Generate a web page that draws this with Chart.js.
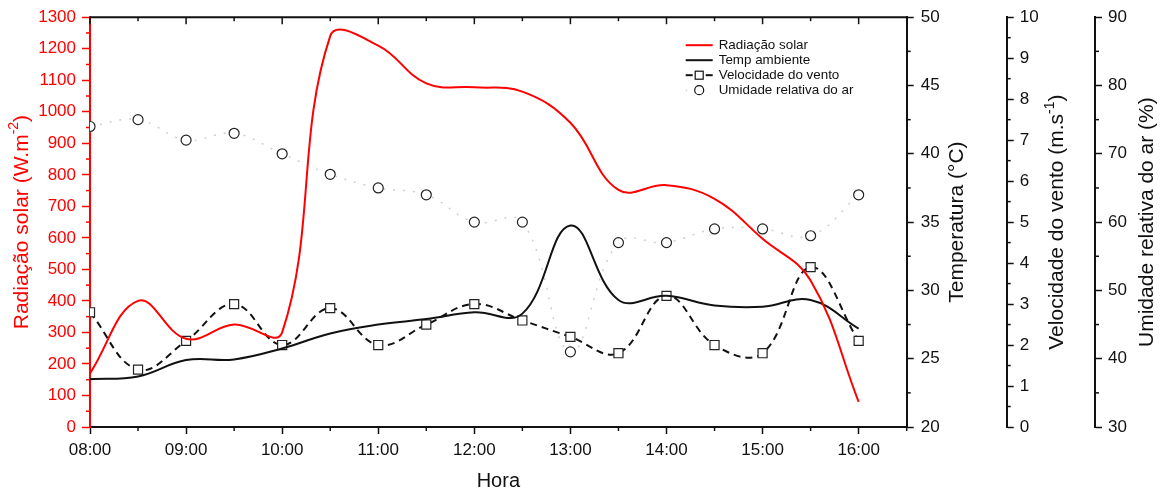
<!DOCTYPE html>
<html>
<head>
<meta charset="utf-8">
<script src="https://cdn.jsdelivr.net/npm/chart.js@4.4.0/dist/chart.umd.min.js"></script>
<style>
  html, body { margin: 0; padding: 0; background: #fff; }
</style>
</head>
<body>
<canvas id="myChart" width="1161" height="494"></canvas>
<script>
// hourly readings, every half hour from 08:00 to 16:00
var horas = [8, 8.5, 9, 9.5, 10, 10.5, 11, 11.5, 12, 12.5, 13, 13.5, 14, 14.5, 15, 15.5, 16];
var horaLabels = ['08:00', '09:00', '10:00', '11:00', '12:00', '13:00', '14:00', '15:00', '16:00'];

var radiacao = [170, 400, 280, 325, 300, 1240, 1210, 1090, 1078, 1064, 965, 752, 767, 724, 597, 465, 80];
var temperatura = [23.5, 23.7, 24.9, 24.95, 25.75, 26.85, 27.5, 27.9, 28.4, 28.3, 34.75, 29.3, 29.6, 28.9, 28.8, 29.3, 27.2];
var vento = [2.8, 1.4, 2.1, 3.0, 2.0, 2.9, 2.0, 2.5, 3.0, 2.6, 2.2, 1.8, 3.2, 2.0, 1.8, 3.9, 2.1];
var umidade = [74, 75, 72, 73, 70, 67, 65, 64, 60, 60, 41, 57, 57, 59, 59, 58, 64];

var legendNames = ['Radiação solar', 'Temp ambiente', 'Velocidade do vento', 'Umidade relativa do ar'];

var RED = '#ff0000';
var INK = '#111111';
var FONT = '"Liberation Sans", Arial, sans-serif';

// minor tick spacing per y axis (half of the labelled step)
var minorSteps = { y: 50, yT: 2.5, yV: 0.5, yU: 5 };

function toPoints(values) {
    var pts = [];
    values.forEach(function (v, i) {
        pts.push({ x: horas[i], y: v });
    });
    return pts;
}

function line(ctx, x1, y1, x2, y2) {
    ctx.beginPath();
    ctx.moveTo(x1, y1);
    ctx.lineTo(x2, y2);
    ctx.stroke();
}

// rotated axis title, with an optional superscript part
function drawVTitle(ctx, cx, cy, main, sup, tail, color) {
    var big = '21px ' + FONT;
    var small = '14px ' + FONT;
    ctx.save();
    ctx.translate(cx, cy);
    ctx.rotate(-Math.PI / 2);
    ctx.fillStyle = color;
    ctx.textBaseline = 'middle';
    ctx.textAlign = 'left';
    ctx.font = big;
    var w1 = ctx.measureText(main).width;
    var w3 = ctx.measureText(tail).width;
    ctx.font = small;
    var w2 = sup ? ctx.measureText(sup).width : 0;
    var x0 = -(w1 + w2 + w3) / 2;
    ctx.font = big;
    ctx.fillText(main, x0, 0);
    if (sup) {
        ctx.font = small;
        ctx.fillText(sup, x0 + w1, -8);
    }
    ctx.font = big;
    ctx.fillText(tail, x0 + w1 + w2, 0);
    ctx.restore();
}

function drawLegend(chart) {
    var ctx = chart.ctx;
    var area = chart.chartArea;
    var lx = area.right - 221;
    var ly = area.top + 28;
    ctx.save();
    ctx.font = '13.4px ' + FONT;
    ctx.textBaseline = 'middle';
    ctx.textAlign = 'left';
    chart.data.datasets.forEach(function (ds, i) {
        var y = ly + i * 15;
        ctx.strokeStyle = ds.borderColor;
        ctx.lineWidth = ds.borderWidth;
        ctx.setLineDash([]);
        if (i < 2) {
            line(ctx, lx, y, lx + 27, y);
        } else if (i === 2) {
            line(ctx, lx, y, lx + 7, y);
            line(ctx, lx + 20, y, lx + 27, y);
            ctx.lineWidth = 1.2;
            ctx.strokeStyle = INK;
            ctx.fillStyle = '#fff';
            ctx.fillRect(lx + 9.5, y - 4, 8, 8);
            ctx.strokeRect(lx + 9.5, y - 4, 8, 8);
        } else {
            ctx.fillStyle = ds.borderColor;
            ctx.fillRect(lx, y - 0.5, 1.5, 1.5);
            ctx.lineWidth = 1.2;
            ctx.strokeStyle = INK;
            ctx.beginPath();
            ctx.arc(lx + 13.5, y, 4.5, 0, Math.PI * 2);
            ctx.stroke();
        }
        ctx.fillStyle = INK;
        ctx.fillText(legendNames[i], lx + 33, y);
    });
    ctx.restore();
}

var extrasPlugin = {
    id: 'extras',
    afterDraw: function (chart) {
        var ctx = chart.ctx;
        var area = chart.chartArea;
        var xs = chart.scales.x;
        ctx.save();

        // top frame with inward ticks, half-hour minor ticks on the bottom
        ctx.strokeStyle = INK;
        ctx.lineWidth = 2;
        line(ctx, area.left, area.top, area.right, area.top);
        ctx.lineWidth = 1.5;
        for (var h = 8; h <= 16.5; h += 0.5) {
            var px = xs.getPixelForValue(h);
            var whole = h % 1 === 0;
            line(ctx, px, area.top, px, area.top + (whole ? 7 : 4));
            if (!whole) line(ctx, px, area.bottom, px, area.bottom + 4);
        }

        // minor ticks on the y axes
        Object.keys(minorSteps).forEach(function (id) {
            var s = chart.scales[id];
            var step = minorSteps[id];
            ctx.strokeStyle = id === 'y' ? RED : INK;
            for (var v = s.min + step; v < s.max; v += 2 * step) {
                var py = s.getPixelForValue(v);
                if (id === 'y') line(ctx, s.right - 4, py, s.right, py);
                else line(ctx, s.left, py, s.left + 4, py);
            }
        });

        var cy = (area.top + area.bottom) / 2;
        drawVTitle(ctx, chart.scales.y.right - 68, cy, 'Radiação solar (W.m', '-2', ')', RED);
        drawVTitle(ctx, chart.scales.yT.left + 51, cy, 'Temperatura (°C)', '', '', INK);
        drawVTitle(ctx, chart.scales.yV.left + 51, cy, 'Velocidade do vento (m.s', '-1', ')', INK);
        drawVTitle(ctx, chart.scales.yU.left + 52, cy, 'Umidade relativa do ar (%)', '', '', INK);

        ctx.fillStyle = INK;
        ctx.font = '20px ' + FONT;
        ctx.textAlign = 'center';
        ctx.textBaseline = 'middle';
        ctx.fillText('Hora', (area.left + area.right) / 2, 481);
        ctx.restore();

        drawLegend(chart);
    }
};

function yAxis(pos, weight, min, max, step, width, color, tickLen, pad) {
    return {
        type: 'linear',
        position: pos,
        weight: weight,
        min: min,
        max: max,
        ticks: {
            stepSize: step,
            color: color,
            padding: pad,
            font: { family: FONT, size: 17 },
            callback: function (value) {
                return String(value);
            }
        },
        grid: {
            drawOnChartArea: false,
            drawTicks: true,
            tickLength: tickLen,
            tickColor: color,
            tickWidth: 1.5
        },
        border: { display: true, color: color, width: 2 },
        afterFit: function (scale) {
            scale.width = width;
        }
    };
}

var config = {
    type: 'line',
    data: {
        datasets: [
            {
                label: legendNames[0],
                data: toPoints(radiacao),
                yAxisID: 'y',
                borderColor: RED,
                borderWidth: 2,
                pointRadius: 0,
                tension: 0.4
            },
            {
                label: legendNames[1],
                data: toPoints(temperatura),
                yAxisID: 'yT',
                borderColor: INK,
                borderWidth: 2,
                pointRadius: 0,
                tension: 0.4
            },
            {
                label: legendNames[2],
                data: toPoints(vento),
                yAxisID: 'yV',
                borderColor: INK,
                borderWidth: 2,
                borderDash: [7, 5],
                pointStyle: 'rect',
                pointRadius: 6.4,
                pointBorderWidth: 1.2,
                pointBorderColor: '#222',
                pointBackgroundColor: '#fff',
                tension: 0.4
            },
            {
                label: legendNames[3],
                data: toPoints(umidade),
                yAxisID: 'yU',
                borderColor: '#cfcfcf',
                borderWidth: 1.5,
                borderDash: [2, 8],
                pointStyle: 'circle',
                pointRadius: 5,
                pointBorderWidth: 1.2,
                pointBorderColor: '#222',
                pointBackgroundColor: '#fff',
                tension: 0.4
            }
        ]
    },
    options: {
        responsive: false,
        animation: false,
        devicePixelRatio: 1,
        layout: { padding: { top: 16, left: 0, right: 0, bottom: 0 } },
        plugins: {
            legend: { display: false },
            tooltip: { enabled: false }
        },
        scales: {
            x: {
                type: 'linear',
                position: 'bottom',
                min: 8,
                max: 16.5,
                ticks: {
                    stepSize: 1,
                    includeBounds: false,
                    autoSkip: false,
                    maxRotation: 0,
                    color: INK,
                    padding: 6,
                    font: { family: FONT, size: 17 },
                    callback: function (value) {
                        return horaLabels[value - 8] || '';
                    }
                },
                grid: {
                    drawOnChartArea: false,
                    tickLength: 7,
                    tickColor: INK,
                    tickWidth: 1.5
                },
                border: { display: true, color: INK, width: 2 },
                afterFit: function (scale) {
                    scale.height = 67;
                }
            },
            y: yAxis('left', 1, 0, 1300, 100, 90, RED, 8, 6),
            yT: yAxis('right', 1, 20, 50, 5, 100, INK, 7, 7),
            yV: yAxis('right', 2, 0, 10, 1, 88.3, INK, 7, 6),
            yU: yAxis('right', 3, 30, 90, 10, 66, INK, 7, 6)
        }
    },
    plugins: [extrasPlugin]
};

var ctx = document.getElementById('myChart').getContext('2d');
var myChart = new Chart(ctx, config);
</script>
</body>
</html>
